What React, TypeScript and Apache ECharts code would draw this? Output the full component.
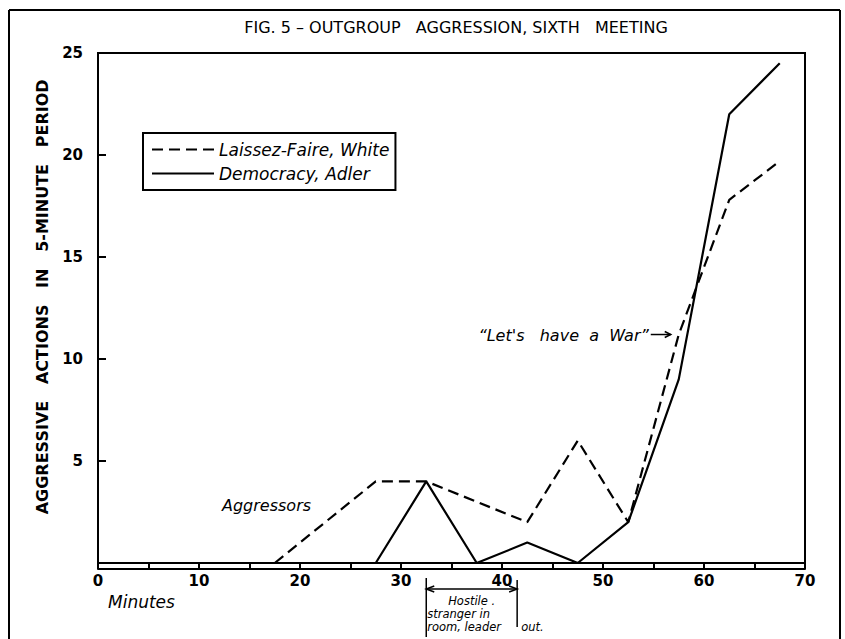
import React, { useEffect, useRef } from "react";
import * as echarts from "echarts";

const minutes = [2.5, 7.5, 12.5, 17.5, 22.5, 27.5, 32.5, 37.5, 42.5, 47.5, 52.5, 57.5, 62.5, 67.5];
const laissezFaire = [null, null, null, 0, 2, 4, 4, 3, 2, 6, 2, 11.2, 17.8, 19.7];
const democracy = [null, null, null, null, null, 0, 4, 0, 1, 0, 2, 9, 22, 24.5];
const xTicks = [0, 10, 20, 30, 40, 50, 60, 70];
const yTicks = [5, 10, 15, 20, 25];
const seriesNames = ["Laissez-Faire, White", "Democracy, Adler"];
const hostileSpan = [32.5, 41.5];
const warPoint = [57.5, 11.2];

const pairs = (vals: (number | null)[]) =>
  minutes.map((m, i) => [m, vals[i]]).filter((p) => p[1] !== null);

const ital = "DejaVu Sans";

export default function App() {
  const ref = useRef<HTMLDivElement>(null);
  useEffect(() => {
    const chart = echarts.init(ref.current!, null, { renderer: "svg" });
    chart.setOption({
      animation: false,
      backgroundColor: "#fff",
      grid: { left: 98, top: 53, width: 707, height: 510, show: true, borderColor: "#000", borderWidth: 2 },
      legend: {
        left: 143,
        top: 133,
        orient: "vertical",
        itemWidth: 62,
        itemHeight: 14,
        itemGap: 7,
        padding: [8, 6, 8, 8],
        borderColor: "#000",
        borderWidth: 2,
        data: seriesNames,
        itemStyle: { opacity: 0 },
        textStyle: { fontFamily: ital, fontStyle: "italic", fontSize: 17, color: "#000" },
      },
      xAxis: [
        {
          type: "value",
          min: 0,
          max: 70,
          interval: 10,
          position: "bottom",
          axisLine: { show: true, lineStyle: { color: "#000", width: 2 } },
          axisTick: { show: true, length: 6, lineStyle: { color: "#000", width: 2 } },
          minorTick: { show: true, splitNumber: 2, length: 6, lineStyle: { color: "#000", width: 2 } },
          splitLine: { show: false },
          axisLabel: {
            margin: 10,
            fontSize: 15,
            fontWeight: "bold",
            color: "#000",
            fontFamily: "DejaVu Sans",
            formatter: (v: number) => (xTicks.includes(v) ? String(v) : ""),
          },
        },
        {
          type: "value",
          min: 0,
          max: 70,
          position: "bottom",
          offset: 6,
          axisLine: { show: true, lineStyle: { color: "#000", width: 2 } },
          axisTick: { show: false },
          axisLabel: { show: false },
          splitLine: { show: false },
        },
      ],
      yAxis: [
        {
          type: "value",
          min: 0,
          max: 25,
          interval: 5,
          offset: 8,
          axisLine: { show: true, lineStyle: { color: "#000", width: 2 } },
          axisTick: { show: true, inside: true, length: 8, lineStyle: { color: "#000", width: 2 } },
          splitLine: { show: false },
          axisLabel: {
            margin: 7,
            fontSize: 15,
            fontWeight: "bold",
            color: "#000",
            fontFamily: "DejaVu Sans",
            formatter: (v: number) => (yTicks.includes(v) ? String(v) : ""),
          },
          name: "    AGGRESSIVE   ACTIONS   IN   5-MINUTE   PERIOD",
          nameLocation: "middle",
          nameRotate: 90,
          nameGap: 40,
          nameTextStyle: { fontSize: 16, fontWeight: "bold", color: "#000", fontFamily: "DejaVu Sans" },
        },
      ],
      series: [
        {
          name: seriesNames[0],
          type: "line",
          data: pairs(laissezFaire),
          symbol: "none",
          lineStyle: { color: "#000", width: 2.2, type: [11, 6] },
          itemStyle: { color: "#000" },
        },
        {
          name: seriesNames[1],
          type: "line",
          data: pairs(democracy),
          symbol: "none",
          lineStyle: { color: "#000", width: 2.2 },
          itemStyle: { color: "#000" },
        },
      ],
    });

    const [hx1, by] = chart.convertToPixel({ gridIndex: 0 }, [hostileSpan[0], 0]);
    const [hx2] = chart.convertToPixel({ gridIndex: 0 }, [hostileSpan[1], 0]);
    const [wx, wy] = chart.convertToPixel({ gridIndex: 0 }, warPoint);
    const txt = (x: number, y: number, text: string, size: number, align = "left", extra: any = {}) => ({
      type: "text",
      x,
      y,
      style: {
        text,
        fontSize: size,
        fontFamily: ital,
        fontStyle: "italic",
        fill: "#000",
        align,
        verticalAlign: "middle",
        ...extra,
      },
    });
    const ln = (x1: number, y1: number, x2: number, y2: number, w = 1.5) => ({
      type: "line",
      shape: { x1, y1, x2, y2 },
      style: { stroke: "#000", lineWidth: w },
    });
    const ay = by + 26;
    chart.setOption({
      graphic: [
        ln(9, 10, 840, 10, 2),
        ln(9, 10, 9, 639, 2),
        ln(840, 10, 840, 639, 2),
        {
          type: "text",
          x: 456,
          y: 27,
          style: {
            text: "FIG. 5 – OUTGROUP   AGGRESSION, SIXTH   MEETING",
            fontSize: 16,
            fontFamily: "DejaVu Sans",
            fill: "#000",
            align: "center",
            verticalAlign: "middle",
          },
        },
        txt(222, 505, "Aggressors", 16),
        txt(wx - 30, wy + 1, "“Let's   have  a  War”", 16, "right"),
        ln(wx - 28, wy, wx - 8, wy, 1.5),
        { type: "polyline", shape: { points: [[wx - 14, wy - 3], [wx - 8, wy], [wx - 14, wy + 3]] }, style: { stroke: "#000", lineWidth: 1.5, fill: "none" } },
        txt(108, by + 39, "Minutes", 17),
        ln(hx1, by + 15, hx1, by + 74, 1.5),
        ln(hx2, by + 17, hx2, by + 64, 1.5),
        ln(hx1, ay, hx2, ay, 1.5),
        { type: "polyline", shape: { points: [[hx1 + 8, ay - 3], [hx1, ay], [hx1 + 8, ay + 3]] }, style: { stroke: "#000", lineWidth: 1.5, fill: "none" } },
        { type: "polyline", shape: { points: [[hx2 - 8, ay - 3], [hx2, ay], [hx2 - 8, ay + 3]] }, style: { stroke: "#000", lineWidth: 1.5, fill: "none" } },
        txt((hx1 + hx2) / 2, by + 38, "Hostile .", 11.5, "center"),
        txt(hx1 + 1, by + 51, "stranger in", 11.5),
        txt(hx1 + 1, by + 64, "room, leader", 11.5),
        txt(hx2 + 4, by + 64, "out.", 11.5),
      ],
    });
    return () => chart.dispose();
  }, []);
  return <div ref={ref} style={{ position: "fixed", left: 0, top: 0, width: 845, height: 639 }} />;
}
